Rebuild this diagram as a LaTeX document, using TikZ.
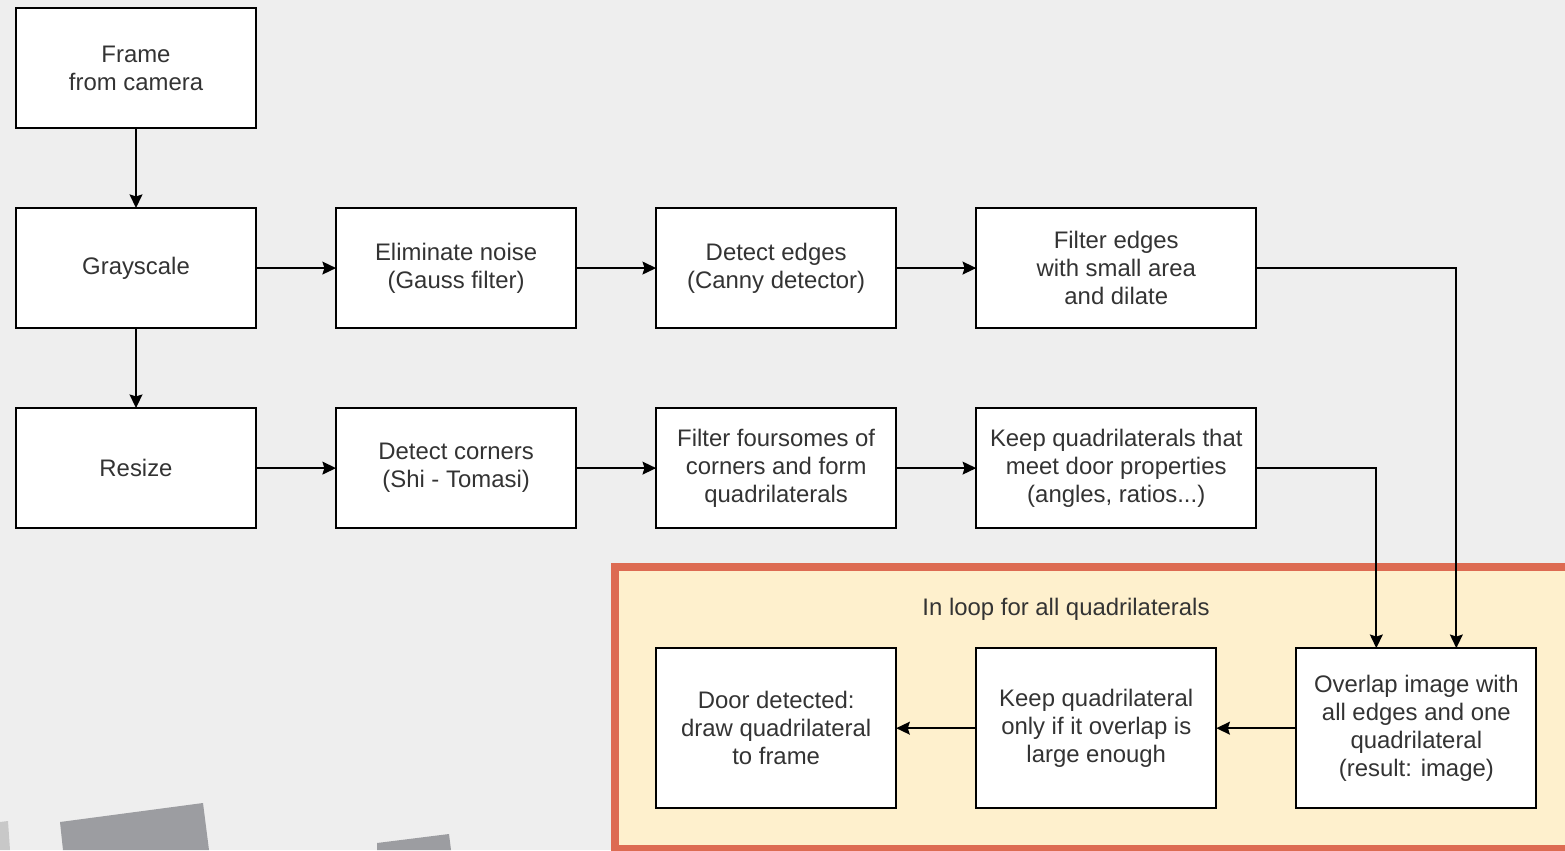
\documentclass[tikz,border=0pt]{standalone}
\usepackage{fontspec}
\setmainfont{Liberation Sans}
\usetikzlibrary{positioning}
\usetikzlibrary{calc}
\usetikzlibrary{arrows.meta}
\definecolor{canvas}{HTML}{EEEEEE}
\definecolor{loopline}{HTML}{DD6B52}
\definecolor{loopfill}{HTML}{FEF0CD}
\definecolor{shard}{HTML}{9C9DA1}
\definecolor{shardlight}{HTML}{C8C8C8}
\definecolor{ink}{HTML}{333333}

\begin{document}
\begin{tikzpicture}[x=0.025cm, y=-0.025cm, node distance=2cm,
    stage/.style={draw, fill=white, line width=1.4pt, outer sep=0pt, minimum width=6cm, minimum height=3cm, align=center, text=ink, font=\fontsize{17}{19.9}\selectfont},
    flow/.style={-{Stealth[length=0.34cm, width=0.32cm, inset=0.05cm]}, line width=1.4pt}]
    \path[use as bounding box, fill=canvas] (0,0) rectangle (1565,850);
    \clip (0,0) rectangle (1565,850);

    % grey pieces at the bottom
    \fill[shardlight] (0,822) -- (8,821) -- (10,850) -- (0,850) -- cycle;
    \fill[shard] (60,822) -- (203,803) -- (209,850) -- (63,850) -- cycle;
    \fill[shard] (377,843) -- (449,834) -- (451,850) -- (377,850) -- cycle;

    % loop area
    \draw[loopline, fill=loopfill, line width=0.2cm] (614.5,566.5) rectangle (1600,849);
    \node (looplbl) [text=ink, font=\fontsize{17}{19.9}\selectfont] at (1066,609) {In loop for all quadrilaterals};

    \node (frame) [stage] at (136,68) {Frame\\from camera};
    \node (gray) [stage, below=of frame] {Grayscale};
    \node (resize) [stage, below=of gray] {Resize};
    \node (noise) [stage, right=of gray] {Eliminate noise\\(Gauss filter)};
    \node (canny) [stage, right=of noise] {Detect edges\\(Canny detector)};
    \node (fedges) [stage, right=of canny, minimum width=7cm] {Filter edges\\with small area\\and dilate};
    \node (corners) [stage, right=of resize] {Detect corners\\(Shi - Tomasi)};
    \node (four) [stage, right=of corners] {Filter foursomes of\\corners and form\\quadrilaterals};
    \node (quads) [stage, right=of four, minimum width=7cm] {Keep quadrilaterals that\\meet door properties\\(angles, ratios...)};
    \node (door) [stage, below=3cm of four, minimum height=4cm] {Door detected:\\draw quadrilateral\\to frame};
    \node (keep) [stage, right=of door, minimum height=4cm] {Keep quadrilateral\\only if it overlap is\\large enough};
    \node (overlap) [stage, right=of keep, minimum height=4cm] {Overlap image with\\all edges and one\\quadrilateral\\(result: image)};

    \draw[flow] (frame) -- (gray);
    \draw[flow] (gray) -- (resize);
    \draw[flow] (gray) -- (noise);
    \draw[flow] (noise) -- (canny);
    \draw[flow] (canny) -- (fedges);
    \draw[flow] (resize) -- (corners);
    \draw[flow] (corners) -- (four);
    \draw[flow] (four) -- (quads);
    \draw[flow] (fedges.east) -| ($(overlap.north west)!2/3!(overlap.north east)$);
    \draw[flow] (quads.east) -| ($(overlap.north west)!1/3!(overlap.north east)$);
    \draw[flow] (overlap) -- (keep);
    \draw[flow] (keep) -- (door);
\end{tikzpicture}
\end{document}
